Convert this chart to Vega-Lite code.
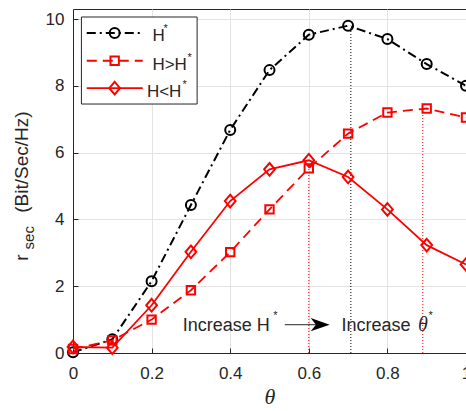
{
  "$schema": "https://vega.github.io/schema/vega-lite/v6.json",
  "width": 393,
  "height": 344,
  "autosize": {"type": "none"},
  "padding": {"left": 73, "top": 9, "right": 0, "bottom": 58},
  "background": "white",
  "config": {
    "view": {"stroke": "#262626", "strokeWidth": 1},
    "font": "Liberation Sans"
  },
  "datasets": {
    "curves": [
      {"x": 0.0, "y": 0.02, "s": "H*"}, {"x": 0.1, "y": 0.41, "s": "H*"}, {"x": 0.2, "y": 2.15, "s": "H*"}, {"x": 0.3, "y": 4.43, "s": "H*"}, {"x": 0.4, "y": 6.68, "s": "H*"}, {"x": 0.5, "y": 8.47, "s": "H*"}, {"x": 0.6, "y": 9.53, "s": "H*"}, {"x": 0.7, "y": 9.8, "s": "H*"}, {"x": 0.8, "y": 9.4, "s": "H*"}, {"x": 0.9, "y": 8.65, "s": "H*"}, {"x": 1.0, "y": 8.0, "s": "H*"},
      {"x": 0.0, "y": 0.12, "s": "H>H*"}, {"x": 0.1, "y": 0.38, "s": "H>H*"}, {"x": 0.2, "y": 1.0, "s": "H>H*"}, {"x": 0.3, "y": 1.88, "s": "H>H*"}, {"x": 0.4, "y": 3.02, "s": "H>H*"}, {"x": 0.5, "y": 4.3, "s": "H>H*"}, {"x": 0.6, "y": 5.53, "s": "H>H*"}, {"x": 0.7, "y": 6.57, "s": "H>H*"}, {"x": 0.8, "y": 7.2, "s": "H>H*"}, {"x": 0.9, "y": 7.32, "s": "H>H*"}, {"x": 1.0, "y": 7.05, "s": "H>H*"},
      {"x": 0.0, "y": 0.18, "s": "H<H*"}, {"x": 0.1, "y": 0.16, "s": "H<H*"}, {"x": 0.2, "y": 1.43, "s": "H<H*"}, {"x": 0.3, "y": 3.03, "s": "H<H*"}, {"x": 0.4, "y": 4.55, "s": "H<H*"}, {"x": 0.5, "y": 5.5, "s": "H<H*"}, {"x": 0.6, "y": 5.77, "s": "H<H*"}, {"x": 0.7, "y": 5.27, "s": "H<H*"}, {"x": 0.8, "y": 4.3, "s": "H<H*"}, {"x": 0.9, "y": 3.23, "s": "H<H*"}, {"x": 1.0, "y": 2.65, "s": "H<H*"}
    ],
    "vlines": [
      {"x": 0.6, "y": 0, "y2": 5.53, "s": "H<H*"},
      {"x": 0.707, "y": 0, "y2": 9.8, "s": "H*"},
      {"x": 0.89, "y": 0, "y2": 7.32, "s": "H>H*"}
    ],
    "legendBox": [{"x": 0.0214, "x2": 0.3158, "y": 10.06, "y2": 7.455}],
    "legendLines": [
      {"x": 0.035, "x2": 0.1775, "y": 9.58, "s": "H*"},
      {"x": 0.035, "x2": 0.1775, "y": 8.75, "s": "H>H*"},
      {"x": 0.035, "x2": 0.1775, "y": 7.93, "s": "H<H*"}
    ],
    "legendMarks": [
      {"x": 0.106, "y": 9.58, "s": "H*"},
      {"x": 0.106, "y": 8.75, "s": "H>H*"},
      {"x": 0.106, "y": 7.93, "s": "H<H*"}
    ],
    "legendText": [
      {"x": 0.202, "y": 9.33, "label": "H"},
      {"x": 0.202, "y": 8.48, "label": "H>H"},
      {"x": 0.188, "y": 7.66, "label": "H<H"}
    ],
    "stars": [
      {"x": 0.236, "y": 9.61, "label": "*"},
      {"x": 0.297, "y": 8.74, "label": "*"},
      {"x": 0.284, "y": 7.94, "label": "*"},
      {"x": 0.515, "y": 1.01, "label": "*"},
      {"x": 0.91, "y": 1.01, "label": "*"}
    ],
    "notes": [
      {"x": 0.279, "y": 0.647, "label": "Increase H"},
      {"x": 0.683, "y": 0.647, "label": "Increase"}
    ],
    "theta": [{"x": 0.878, "y": 0.647, "label": "θ"}],
    "arrow": [{"x": 0.539, "x2": 0.64, "y": 0.847}],
    "arrowHead": [{"x": 0.629, "y": 0.847}],
    "ytitleMain": [
      {"x": -0.115, "y": 4.2, "label": "(Bit/Sec/Hz)"},
      {"x": -0.115, "y": 2.76, "label": "r"}
    ],
    "ytitleSub": [{"x": -0.1, "y": 3.1, "label": "sec"}]
  },
  "encoding": {
    "x": {
      "field": "x", "type": "quantitative",
      "scale": {"domain": [0, 1], "nice": false, "zero": false},
      "axis": {
        "values": [0, 0.2, 0.4, 0.6, 0.8, 1],
        "format": "~g",
        "grid": true, "gridColor": "#e3e3e3", "gridWidth": 1,
        "domainColor": "#262626", "tickColor": "#262626", "tickSize": -5,
        "labelFont": "Liberation Sans", "labelFontSize": 17, "labelColor": "#262626",
        "labelPadding": 17, "labelFlush": false, "labelOverlap": false,
        "title": "θ", "titleFont": "Liberation Serif", "titleFontStyle": "italic",
        "titleFontWeight": "normal", "titleFontSize": 22, "titleColor": "#262626", "titlePadding": 5
      }
    },
    "y": {
      "field": "y", "type": "quantitative",
      "scale": {"domain": [0, 10.3], "nice": false, "zero": false},
      "axis": {
        "values": [0, 2, 4, 6, 8, 10],
        "grid": true, "gridColor": "#e3e3e3", "gridWidth": 1,
        "domainColor": "#262626", "tickColor": "#262626", "tickSize": -5,
        "labelFont": "Liberation Sans", "labelFontSize": 17, "labelColor": "#262626",
        "labelPadding": 14, "labelFlush": false, "labelOverlap": false,
        "title": null
      }
    }
  },
  "layer": [
    {"data": {"name": "vlines"}, "transform": [{"filter": {"field": "s", "equal": "H*"}}],
     "mark": {"type": "rule", "color": "#000000", "strokeWidth": 1, "strokeDash": [1, 2]},
     "encoding": {"y2": {"field": "y2"}}},
    {"data": {"name": "vlines"}, "transform": [{"filter": {"field": "s", "oneOf": ["H>H*", "H<H*"]}}],
     "mark": {"type": "rule", "color": "#ff0000", "strokeWidth": 1, "strokeDash": [1, 2]},
     "encoding": {"y2": {"field": "y2"}}},
    {"data": {"name": "curves"}, "transform": [{"filter": {"field": "s", "equal": "H*"}}],
     "mark": {"type": "line", "color": "#000000", "strokeWidth": 2, "strokeDash": [9, 4, 2, 4]},
     "encoding": {}},
    {"data": {"name": "curves"}, "transform": [{"filter": {"field": "s", "equal": "H*"}}],
     "mark": {"type": "point", "shape": "circle", "size": 100, "filled": false, "color": "#000000", "strokeWidth": 2, "opacity": 1},
     "encoding": {}},
    {"data": {"name": "curves"}, "transform": [{"filter": {"field": "s", "equal": "H>H*"}}],
     "mark": {"type": "line", "color": "#ff0000", "strokeWidth": 1.8, "strokeDash": [10, 6]},
     "encoding": {}},
    {"data": {"name": "curves"}, "transform": [{"filter": {"field": "s", "equal": "H>H*"}}],
     "mark": {"type": "point", "shape": "square", "size": 70, "filled": false, "color": "#ff0000", "strokeWidth": 2, "opacity": 1},
     "encoding": {}},
    {"data": {"name": "curves"}, "transform": [{"filter": {"field": "s", "equal": "H<H*"}}],
     "mark": {"type": "line", "color": "#ff0000", "strokeWidth": 1.8},
     "encoding": {}},
    {"data": {"name": "curves"}, "transform": [{"filter": {"field": "s", "equal": "H<H*"}}],
     "mark": {"type": "point", "shape": "M0,-1L0.85,0L0,1L-0.85,0Z", "size": 160, "filled": false, "color": "#ff0000", "strokeWidth": 2, "opacity": 1},
     "encoding": {}},
    {"data": {"name": "legendBox"},
     "mark": {"type": "rect", "fill": "#ffffff", "stroke": "#262626", "strokeWidth": 1},
     "encoding": {"x2": {"field": "x2"}, "y2": {"field": "y2"}}},
    {"data": {"name": "legendLines"}, "transform": [{"filter": {"field": "s", "equal": "H*"}}],
     "mark": {"type": "rule", "color": "#000000", "strokeWidth": 2, "strokeDash": [9, 4, 2, 4]},
     "encoding": {"x2": {"field": "x2"}}},
    {"data": {"name": "legendLines"}, "transform": [{"filter": {"field": "s", "equal": "H>H*"}}],
     "mark": {"type": "rule", "color": "#ff0000", "strokeWidth": 1.8, "strokeDash": [10, 6]},
     "encoding": {"x2": {"field": "x2"}}},
    {"data": {"name": "legendLines"}, "transform": [{"filter": {"field": "s", "equal": "H<H*"}}],
     "mark": {"type": "rule", "color": "#ff0000", "strokeWidth": 1.8},
     "encoding": {"x2": {"field": "x2"}}},
    {"data": {"name": "legendMarks"}, "transform": [{"filter": {"field": "s", "equal": "H*"}}],
     "mark": {"type": "point", "shape": "circle", "size": 100, "filled": false, "color": "#000000", "strokeWidth": 2, "opacity": 1},
     "encoding": {}},
    {"data": {"name": "legendMarks"}, "transform": [{"filter": {"field": "s", "equal": "H>H*"}}],
     "mark": {"type": "point", "shape": "square", "size": 70, "filled": false, "color": "#ff0000", "strokeWidth": 2, "opacity": 1},
     "encoding": {}},
    {"data": {"name": "legendMarks"}, "transform": [{"filter": {"field": "s", "equal": "H<H*"}}],
     "mark": {"type": "point", "shape": "M0,-1L0.85,0L0,1L-0.85,0Z", "size": 160, "filled": false, "color": "#ff0000", "strokeWidth": 2, "opacity": 1},
     "encoding": {}},
    {"data": {"name": "legendText"},
     "mark": {"type": "text", "align": "left", "baseline": "alphabetic", "font": "Liberation Sans", "fontSize": 17, "color": "#262626"},
     "encoding": {"text": {"field": "label"}}},
    {"data": {"name": "stars"},
     "mark": {"type": "text", "align": "center", "baseline": "alphabetic", "font": "Liberation Sans", "fontSize": 11, "color": "#262626"},
     "encoding": {"text": {"field": "label"}}},
    {"data": {"name": "notes"},
     "mark": {"type": "text", "align": "left", "baseline": "alphabetic", "font": "Liberation Sans", "fontSize": 18, "color": "#262626"},
     "encoding": {"text": {"field": "label"}}},
    {"data": {"name": "theta"},
     "mark": {"type": "text", "align": "left", "baseline": "alphabetic", "font": "Liberation Serif", "fontStyle": "italic", "fontSize": 20, "color": "#262626"},
     "encoding": {"text": {"field": "label"}}},
    {"data": {"name": "arrow"},
     "mark": {"type": "rule", "color": "#262626", "strokeWidth": 1},
     "encoding": {"x2": {"field": "x2"}}},
    {"data": {"name": "arrowHead"},
     "mark": {"type": "point", "shape": "M1,0L-1,-0.7L-0.45,0L-1,0.7Z", "size": 361, "filled": true, "color": "#000000", "opacity": 1, "strokeWidth": 0},
     "encoding": {}},
    {"data": {"name": "ytitleMain"},
     "mark": {"type": "text", "angle": 270, "align": "left", "baseline": "alphabetic", "font": "Liberation Sans", "fontSize": 19, "color": "#262626", "clip": false},
     "encoding": {"text": {"field": "label"}}},
    {"data": {"name": "ytitleSub"},
     "mark": {"type": "text", "angle": 270, "align": "left", "baseline": "alphabetic", "font": "Liberation Sans", "fontSize": 15, "color": "#262626", "clip": false},
     "encoding": {"text": {"field": "label"}}}
  ]
}
